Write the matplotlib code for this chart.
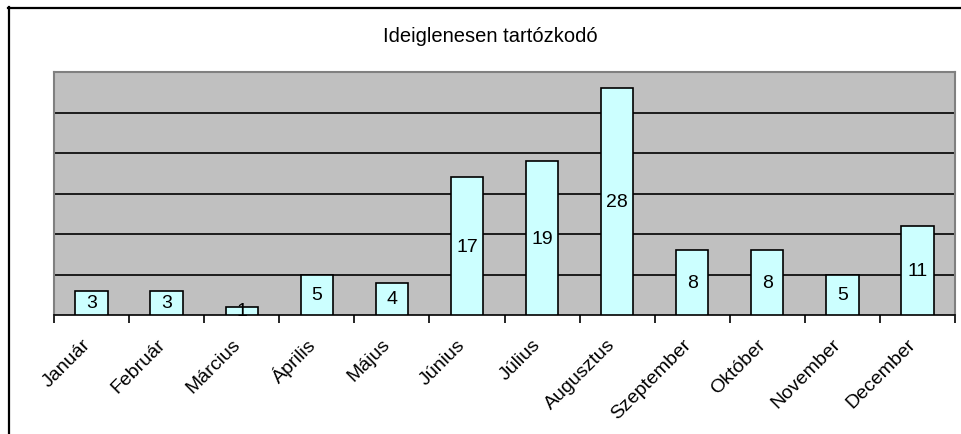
import matplotlib.pyplot as plt
from matplotlib.lines import Line2D
from matplotlib.transforms import ScaledTranslation

plt.rcParams['font.family'] = ['Liberation Sans', 'DejaVu Sans']

# Data
months = ["Január", "Február", "Március", "Április", "Május", "Június",
          "Július", "Augusztus", "Szeptember", "Október", "November", "December"]
values = [3, 3, 1, 5, 4, 17, 19, 28, 8, 8, 5, 11]
title = "Ideiglenesen tartózkodó"

W, H = 961, 435
fig = plt.figure(figsize=(W / 100, H / 100), dpi=100)

# outer chart frame (cropped on right and bottom)
fig.add_artist(Line2D([8 / W, 1], [1 - 9 / H, 1 - 9 / H], color="black", lw=1.6))
fig.add_artist(Line2D([9 / W, 9 / W], [0, 1 - 8 / H], color="black", lw=1.6))

ax = fig.add_axes([54 / W, (H - 316) / H, (955 - 54) / W, (316 - 73) / H])
ax.set_facecolor("#C0C0C0")

x = range(len(months))
bars = ax.bar(x, values, width=0.43, color="#CCFFFF", edgecolor="black",
              linewidth=1.2, zorder=3)

for xi, v in zip(x, values):
    ax.text(xi, v / 2, str(v), ha="center", va="center", fontsize=14, zorder=4)

ax.set_xlim(-0.5, len(months) - 0.5)
ax.set_ylim(0, 30)

# gridlines
ax.set_yticks([5, 10, 15, 20, 25])
ax.yaxis.grid(True, color="black", linewidth=1.2, zorder=1)
ax.tick_params(axis="y", left=False, labelleft=False)

ax.set_xticks(list(x))
ax.set_xticklabels(months, rotation=45, ha="right", va="center",
                   rotation_mode="anchor", fontsize=14)
ax.tick_params(axis="x", which="major", length=0, pad=19)
# nudge labels a little to the left, like the original
shift = ScaledTranslation(-4 / 100, 0, fig.dpi_scale_trans)
for lbl in ax.get_xticklabels():
    lbl.set_transform(lbl.get_transform() + shift)
ax.set_xticks([i - 0.5 for i in range(len(months) + 1)], minor=True)
ax.tick_params(axis="x", which="minor", length=6, width=1.2, color="black")

for s in ["top", "left", "right"]:
    ax.spines[s].set_color("#808080")
    ax.spines[s].set_linewidth(1.5)
ax.spines["bottom"].set_color("black")
ax.spines["bottom"].set_linewidth(1.2)

fig.text(490 / W, 1 - 37 / H, title, ha="center", va="center", fontsize=14.5)

fig.savefig("out.png", dpi=100)
